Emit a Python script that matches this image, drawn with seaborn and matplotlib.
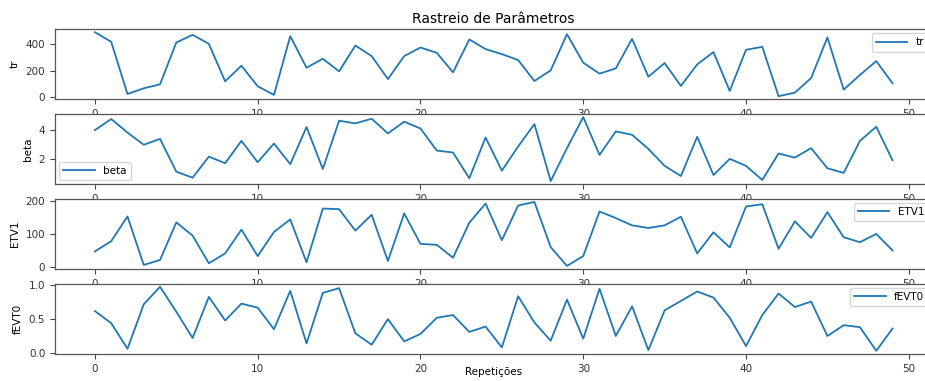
import matplotlib
matplotlib.use("Agg")
import matplotlib.pyplot as plt
import seaborn as sns
import numpy as np
import pandas as pd

reps = list(range(50))

tr = [493, 420, 25, 68, 98, 415, 473, 405, 121, 239,
      83, 18, 463, 224, 292, 196, 392, 312, 138, 312,
      377, 337, 189, 438, 365, 327, 282, 123, 204, 478,
      262, 179, 219, 443, 156, 259, 86, 249, 342, 48,
      360, 382, 8, 35, 146, 453, 58, 169, 274, 106]

beta = [4.02, 4.81, 3.85, 2.98, 3.40, 1.07, 0.64, 2.14, 1.67, 3.26,
        1.74, 3.07, 1.60, 4.24, 1.26, 4.69, 4.50, 4.83, 3.79, 4.62,
        4.14, 2.57, 2.43, 0.60, 3.50, 1.14, 2.86, 4.45, 0.40, 2.74,
        4.95, 2.26, 3.93, 3.69, 2.69, 1.48, 0.76, 3.55, 0.83, 1.98,
        1.48, 0.48, 2.36, 2.07, 2.74, 1.31, 0.98, 3.26, 4.26, 1.88]

etv1 = [47, 78, 153, 6, 21, 135, 95, 11, 41, 113,
        33, 106, 144, 14, 177, 175, 110, 158, 18, 162,
        70, 67, 28, 134, 192, 81, 186, 197, 60, 3,
        33, 168, 148, 126, 118, 126, 152, 41, 105, 59,
        183, 190, 55, 138, 88, 166, 90, 75, 100, 50]

fevt0 = [0.62, 0.44, 0.06, 0.72, 0.98, 0.61, 0.22, 0.83, 0.48, 0.73,
         0.67, 0.35, 0.92, 0.14, 0.89, 0.96, 0.29, 0.12, 0.50, 0.17,
         0.28, 0.52, 0.56, 0.31, 0.39, 0.08, 0.84, 0.45, 0.18, 0.79,
         0.21, 0.95, 0.25, 0.69, 0.04, 0.63, 0.77, 0.91, 0.82, 0.52,
         0.10, 0.56, 0.88, 0.68, 0.76, 0.25, 0.41, 0.38, 0.03, 0.36]

series_names = ["tr", "beta", "ETV1", "fEVT0"]
series_values = [tr, beta, etv1, fevt0]
legend_locs = ["upper right", "lower left", "upper right", "upper right"]
yticks = [[0, 200, 400], [2, 4], [0, 100, 200], [0.0, 0.5, 1.0]]

title = "Rastreio de Parâmetros"
xlabel = "Repetições"

plt.rcParams.update({
    "font.family": ["DejaVu Sans"],
    "font.size": 7.5,
    "axes.edgecolor": "#555555",
    "axes.linewidth": 0.9,
    "xtick.color": "#444444",
    "ytick.color": "#444444",
    "xtick.labelcolor": "#333333",
    "ytick.labelcolor": "#333333",
    "xtick.labelsize": 7.5,
    "ytick.labelsize": 7.5,
    "legend.fontsize": 7.5,
})

fig, axes = plt.subplots(4, 1, figsize=(9.25, 3.81), dpi=100)
fig.subplots_adjust(left=0.0595, right=1.008, top=1 - 29 / 381, bottom=27 / 381, hspace=0.205)

for ax, name, vals, loc, yt in zip(axes, series_names, series_values, legend_locs, yticks):
    df = pd.DataFrame({"rep": reps, name: vals})
    sns.lineplot(data=df, x="rep", y=name, ax=ax, color="#1f77b4", linewidth=1.3, label=name)
    ax.set_ylabel(name)
    ax.set_xlabel("")
    ax.set_xticks([0, 10, 20, 30, 40, 50])
    ax.set_yticks(yt)
    ax.margins(x=0.05, y=0.05)
    ax.legend(loc=loc, handlelength=3.0, borderaxespad=0.4)

axes[-1].set_yticklabels(["0.0", "0.5", "1.0"])
axes[0].set_title(title, fontsize=10, pad=4)
axes[-1].set_xlabel(xlabel)
axes[-1].xaxis.set_label_coords(0.5, -0.19)

fig.savefig("out.png", dpi=100)
